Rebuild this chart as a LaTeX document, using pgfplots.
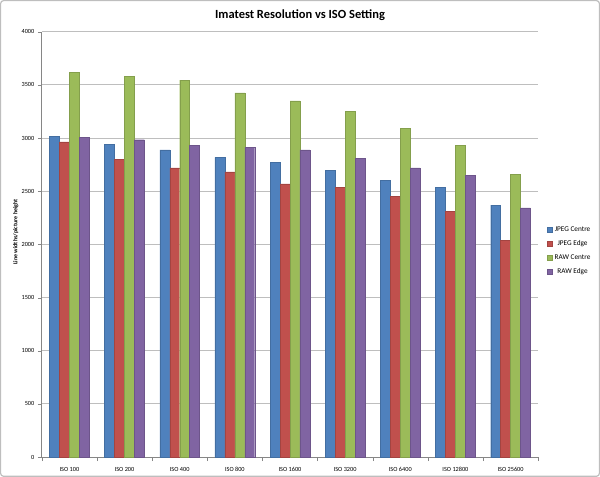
\documentclass[border=0pt]{standalone}
\usepackage{fontspec}
\setmainfont{Carlito}
\usepackage{pgfplots}
\pgfplotsset{compat=1.18}
\definecolor{cA}{HTML}{4F81BD}
\definecolor{cB}{HTML}{C0504D}
\definecolor{cC}{HTML}{9BBB59}
\definecolor{cD}{HTML}{8064A2}
\definecolor{gridc}{HTML}{BEBEBE}
\definecolor{axc}{HTML}{868686}
\begin{document}
\begin{tikzpicture}[x=1bp,y=1bp]
\draw[gridc, line width=1.2bp, rounded corners=3bp] (0.8,0.8) rectangle (599.2,476.2);
\node[font=\bfseries\fontsize{12.5}{14}\selectfont] at (300,462) {Imatest Resolution vs ISO Setting};
\node[font=\bfseries\fontsize{6}{7}\selectfont, rotate=90] at (16,245) {Line widths/picture height};
\begin{axis}[
  at={(42bp,20bp)}, anchor=south west,
  scale only axis, width=496bp, height=425bp,
  ybar=0pt, bar width=0.18,
  xmin=-0.5, xmax=8.5, ymin=0, ymax=4000,
  ytick={0,500,...,4000},
  xtick={0,...,8},
  xticklabels={ISO 100,ISO 200,ISO 400,ISO 800,ISO 1600,ISO 3200,ISO 6400,ISO 12800,ISO 25600},
  minor xtick={-0.5,0.5,...,8.5},
  major x tick style={draw=none},
  minor x tick style={draw=axc},
  y tick style={draw=axc},
  tick align=outside,
  major tick length=4bp, minor tick length=4bp,
  axis x line*=bottom, axis y line*=left,
  axis line style={draw=axc, line width=0.9bp},
  ymajorgrids, grid style={draw=gridc, line width=1bp},
  /pgf/number format/assume math mode=true,
  /pgf/number format/set thousands separator={},
  ticklabel style={font=\fontsize{6.3}{7}\selectfont},
  xticklabel style={yshift=-3bp},
  legend style={at={(1.012,0.485)}, anchor=west, draw=none, fill=none,
    font=\fontsize{7.3}{8}\selectfont, row sep=3.5bp},
  legend image code/.code={\fill[#1] (0bp,-2.5bp) rectangle (5bp,2.5bp);},
]
\addplot[fill=cA, draw=cA!85!black, line width=0.4bp] coordinates {(0,3020) (1,2940) (2,2890) (3,2820) (4,2775) (5,2700) (6,2605) (7,2540) (8,2370)};
\addplot[fill=cB, draw=cB!85!black, line width=0.4bp] coordinates {(0,2965) (1,2800) (2,2720) (3,2682) (4,2570) (5,2535) (6,2455) (7,2310) (8,2040)};
\addplot[fill=cC, draw=cC!85!black, line width=0.4bp] coordinates {(0,3620) (1,3580) (2,3545) (3,3425) (4,3350) (5,3250) (6,3090) (7,2930) (8,2660)};
\addplot[fill=cD, draw=cD!85!black, line width=0.4bp] coordinates {(0,3010) (1,2985) (2,2935) (3,2910) (4,2890) (5,2810) (6,2720) (7,2650) (8,2345)};
\legend{JPEG Centre,JPEG Edge,RAW Centre,RAW Edge}
\end{axis}
\end{tikzpicture}
\end{document}
